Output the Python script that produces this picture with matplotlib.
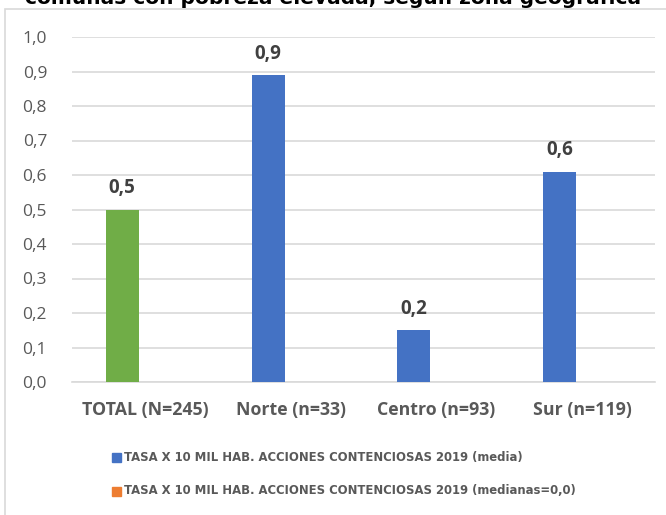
import matplotlib
matplotlib.use("Agg")
import matplotlib.pyplot as plt
from matplotlib.patches import Rectangle
from matplotlib.font_manager import fontManager

categories = ["TOTAL (N=245)", "Norte (n=33)", "Centro (n=93)", "Sur (n=119)"]
media = [0.50, 0.89, 0.15, 0.61]
medianas = [0.0, 0.0, 0.0, 0.0]
bar_labels = ["0,5", "0,9", "0,2", "0,6"]
yticks = [0.0, 0.1, 0.2, 0.3, 0.4, 0.5, 0.6, 0.7, 0.8, 0.9, 1.0]
ytick_labels = ["0,0", "0,1", "0,2", "0,3", "0,4", "0,5", "0,6", "0,7", "0,8", "0,9", "1,0"]
legend_labels = ["TASA X 10 MIL HAB. ACCIONES CONTENCIOSAS 2019 (media)",
                 "TASA X 10 MIL HAB. ACCIONES CONTENCIOSAS 2019 (medianas=0,0)"]
title = "comunas con pobreza elevada, según zona geográfica"

names = {f.name for f in fontManager.ttflist}
main = "Open Sans" if "Open Sans" in names else "DejaVu Sans"

blue = "#4472C4"
orange = "#ED7D31"
green = "#70AD47"
gray = "#595959"

W, H = 666, 515
fig = plt.figure(figsize=(W / 100, H / 100), dpi=100)
ax = fig.add_axes([72 / W, 1 - 382 / H, (655 - 72) / W, (382 - 37) / H])

x = list(range(len(categories)))
w = 0.226
off = 0.155
colors = [green, blue, blue, blue]
ax.bar([i - off for i in x], media, width=w, color=colors, zorder=3)
ax.bar([i + off for i in x], medianas, width=w, color=orange, zorder=3)

for i, (v, lab) in enumerate(zip(media, bar_labels)):
    ax.annotate(lab, (i - off, v), xytext=(0, 8), textcoords="offset points",
                ha="center", va="bottom", fontsize=13.5, fontweight="bold",
                color="#404040", family=main)

ax.set_xlim(-0.5, len(categories) - 0.5)
ax.set_ylim(0, 1.0)
ax.set_yticks(yticks)
ax.set_yticklabels(ytick_labels, fontsize=12.5, color=gray, family=main)
ax.set_xticks(x)
ax.set_xticklabels(categories, fontsize=12.8, fontweight="bold", color=gray, family=main)
ax.tick_params(axis="both", length=0)
ax.tick_params(axis="y", pad=18)
ax.tick_params(axis="x", pad=14)
ax.grid(axis="y", color="#D9D9D9", linewidth=1.2, zorder=0)
for s in ["top", "right", "left"]:
    ax.spines[s].set_visible(False)
ax.spines["bottom"].set_color("#D9D9D9")
ax.spines["bottom"].set_linewidth(1.2)

# legend
for j, (lab, c) in enumerate(zip(legend_labels, [blue, orange])):
    yc = 1 - (457 + j * 34) / H
    fig.patches.append(Rectangle((112 / W, yc - 4.5 / H), 9 / W, 8.5 / H,
                                 transform=fig.transFigure, color=c))
    fig.text(124 / W, yc, lab, fontsize=8.4, fontweight="bold", color=gray,
             family="DejaVu Sans", va="center", ha="left")

# chart frame
fig.patches.append(Rectangle((5 / W, -0.05), 1.2, 1 - 8.5 / H + 0.05,
                             transform=fig.transFigure, fill=False,
                             edgecolor="#D9D9D9", linewidth=1.2))

fig.text(333 / W, 1 - 4.5 / H, title, fontsize=14.5, fontweight="bold",
         color="black", family="DejaVu Sans", ha="center", va="baseline")

fig.savefig("out.png", dpi=100)
